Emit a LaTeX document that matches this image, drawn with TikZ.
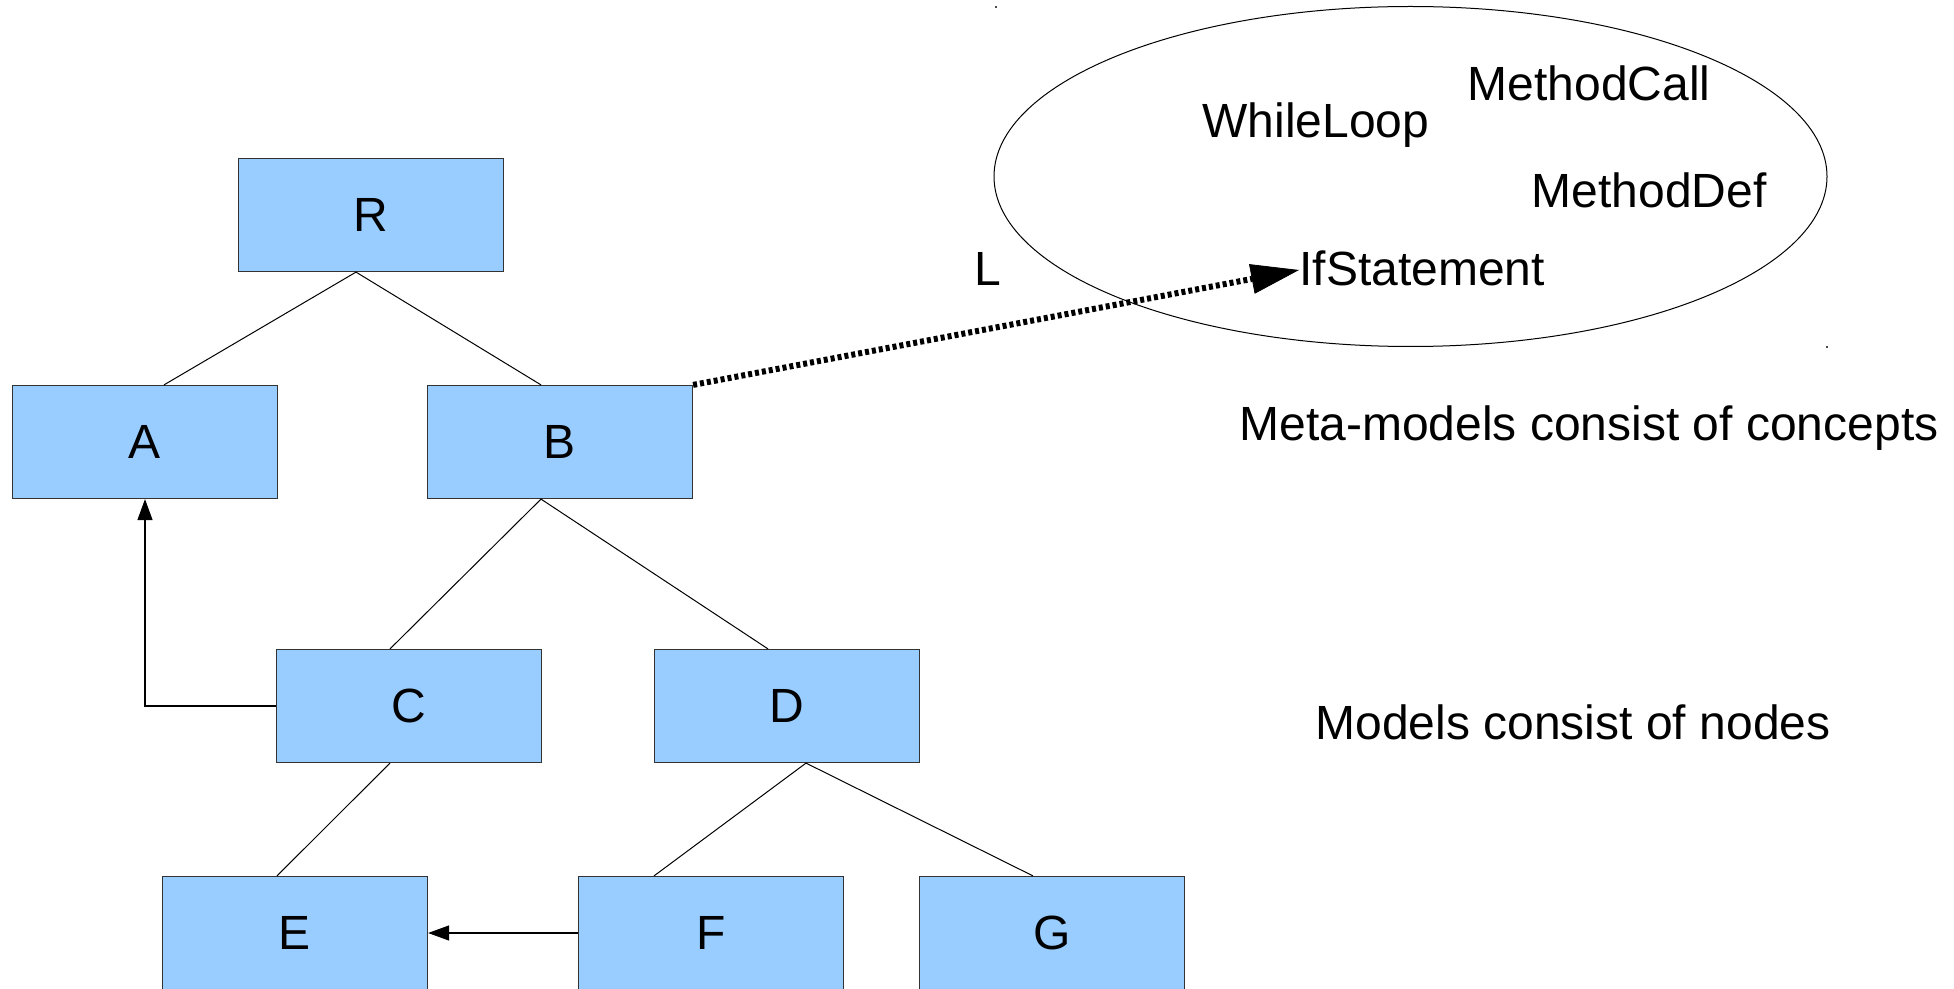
\documentclass[tikz,border=0pt]{standalone}
\usepackage{fontspec}
\setmainfont{Liberation Sans}
\usetikzlibrary{arrows.meta,shapes.geometric}
\definecolor{boxblue}{HTML}{99CCFF}
\definecolor{edgegray}{HTML}{333333}
\begin{document}
\begin{tikzpicture}[x=0.5pt,y=-0.5pt,
  txt/.style={inner sep=0pt, font=\fontsize{24}{28}\selectfont, text height=7.2pt, text depth=0pt},
  box/.style={txt, text height=16.2pt, draw=edgegray, line width=0.6pt, fill=boxblue, minimum width=132.5pt, minimum height=56.5pt},
  tree/.style={line width=0.5pt},
  ref/.style={line width=0.6pt, -{Triangle[length=10.5pt,width=7.5pt]}},
  inst/.style={line width=3pt, dash pattern=on 2pt off 1.5pt, -{Triangle[length=24pt,width=15pt,line width=0.4pt]}}]
\useasboundingbox (0,0) rectangle (1954,989);

% concept ellipse
\node[draw, line width=0.5pt, ellipse, minimum width=416.5pt, minimum height=170pt, inner sep=0pt] (meta) at (1410.5,176.5) {};
\fill[black!70] (995,6) rectangle +(2,2);
\fill[black!70] (1826,346) rectangle +(2,2);

\node[txt] (wl) at (1316,130) {WhileLoop};
\node[txt] (mc) at (1589,93) {MethodCall};
\node[txt] (md) at (1649,200) {MethodDef};
\node[txt, anchor=west] (ifs) at (1299,278) {IfStatement};
\node[txt] (L) at (988,278) {L};
\node[txt] (metatext) at (1589,433) {Meta-models consist of concepts};
\node[txt] (modtext) at (1573,732) {Models consist of nodes};

% model nodes
\node[box] (R) at (371,215) {R};
\node[box] (A) at (145,442) {A};
\node[box] (B) at (560,442) {B};
\node[box] (C) at (409,706) {C};
\node[box] (D) at (787,706) {D};
\node[box] (E) at (295,933) {E};
\node[box] (F) at (711,933) {F};
\node[box] (G) at (1052,933) {G};

% tree edges
\draw[tree] ([xshift=-7.5pt]R.south) -- ([xshift=9.5pt]A.north);
\draw[tree] ([xshift=-7.5pt]R.south) -- ([xshift=-9.5pt]B.north);
\draw[tree] ([xshift=-9.5pt]B.south) -- ([xshift=-9.5pt]C.north);
\draw[tree] ([xshift=-9.5pt]B.south) -- ([xshift=-9.5pt]D.north);
\draw[tree] ([xshift=-9.5pt]C.south) -- ([xshift=-9pt]E.north);
\draw[tree] ([xshift=9.5pt]D.south) -- ([xshift=-28.5pt]F.north);
\draw[tree] ([xshift=9.5pt]D.south) -- ([xshift=-9.5pt]G.north);

% references
\draw[ref] (C.west) -| (A.south);
\draw[ref] (F.west) -- (E.east);

% instance-of link
\draw[inst] (B.north east) -- ([yshift=4pt]ifs.west);
\end{tikzpicture}
\end{document}
